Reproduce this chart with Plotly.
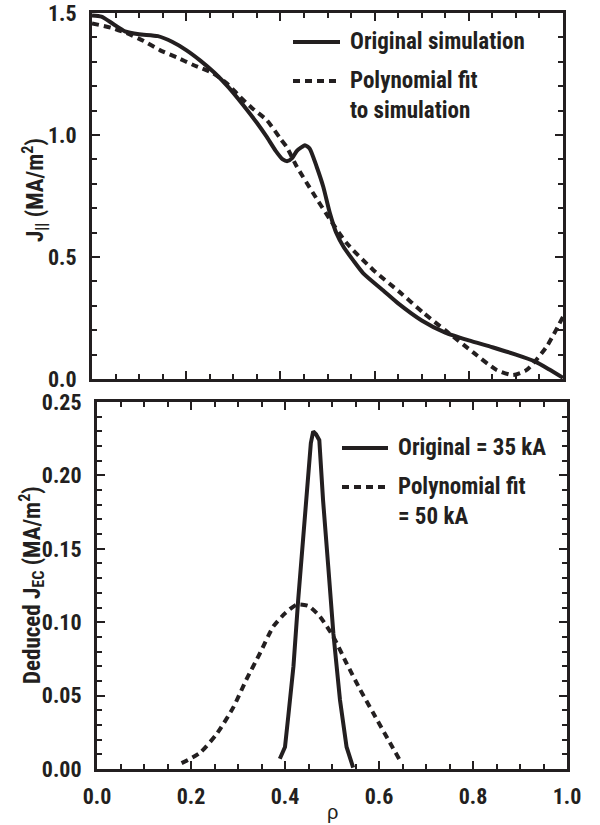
import plotly.graph_objects as go

# ---- J_parallel profile (top panel) ----
rho_sim = [0.00, 0.02, 0.045, 0.07, 0.10, 0.14, 0.17, 0.20, 0.23, 0.26, 0.29, 0.32,
           0.35, 0.37, 0.39, 0.405, 0.415, 0.425, 0.435, 0.445, 0.452, 0.462, 0.477,
           0.491, 0.505, 0.519, 0.534, 0.555, 0.576, 0.62, 0.65, 0.70, 0.75, 0.80,
           0.85, 0.90, 0.94, 0.97, 1.00]
j_sim = [1.490, 1.485, 1.455, 1.425, 1.413, 1.405, 1.382, 1.348, 1.305, 1.255, 1.195, 1.125,
         1.050, 0.995, 0.935, 0.900, 0.893, 0.905, 0.935, 0.950, 0.958, 0.945, 0.870,
         0.788, 0.680, 0.597, 0.542, 0.485, 0.433, 0.360, 0.310, 0.240, 0.190, 0.158,
         0.130, 0.100, 0.072, 0.040, 0.005]

rho_fit = [0.00, 0.04, 0.074, 0.11, 0.144, 0.18, 0.215, 0.258, 0.29, 0.314, 0.34, 0.371,
           0.40, 0.413, 0.435, 0.47, 0.506, 0.541, 0.597, 0.654, 0.703, 0.753, 0.81,
           0.859, 0.894, 0.923, 0.965, 1.00]
j_fit = [1.457, 1.440, 1.417, 1.385, 1.348, 1.318, 1.287, 1.252, 1.205, 1.157, 1.110, 1.061,
         0.985, 0.952, 0.870, 0.760, 0.652, 0.556, 0.447, 0.355, 0.272, 0.195, 0.108,
         0.037, 0.016, 0.037, 0.132, 0.255]

# ---- Deduced J_EC (bottom panel) ----
rho_ec_orig = [0.389, 0.400, 0.407, 0.418, 0.428, 0.439, 0.450, 0.455, 0.460, 0.466,
               0.473, 0.481, 0.492, 0.503, 0.517, 0.531, 0.545]
j_ec_orig = [0.007, 0.015, 0.036, 0.070, 0.115, 0.161, 0.206, 0.222, 0.230, 0.228,
             0.224, 0.183, 0.138, 0.092, 0.047, 0.015, 0.001]

rho_ec_fit = [0.180, 0.219, 0.255, 0.290, 0.318, 0.347, 0.375, 0.400, 0.425, 0.450,
              0.474, 0.503, 0.531, 0.560, 0.588, 0.623, 0.648]
j_ec_fit = [0.004, 0.011, 0.024, 0.042, 0.061, 0.079, 0.097, 0.106, 0.112, 0.111,
            0.104, 0.090, 0.072, 0.054, 0.038, 0.018, 0.004]

top_legend = ["Original simulation", "Polynomial fit<br>to simulation"]
bottom_legend = ["Original = 35 kA", "Polynomial fit<br>= 50 kA"]

W, H = 600, 825
INK = "#231f20"
FONT = "Roboto Condensed, DejaVu Sans Condensed, Liberation Sans Narrow, Liberation Sans, sans-serif"
DASH = "7px,5px"


def px(x):
    return x / W


def py(y):
    return 1 - y / H


fig = go.Figure()
fig.add_trace(go.Scatter(x=rho_sim, y=j_sim, mode="lines", xaxis="x", yaxis="y",
                         line=dict(color=INK, width=4, shape="spline", smoothing=0.6)))
fig.add_trace(go.Scatter(x=rho_fit, y=j_fit, mode="lines", xaxis="x", yaxis="y",
                         line=dict(color=INK, width=4, dash=DASH, shape="spline", smoothing=0.6)))
fig.add_trace(go.Scatter(x=rho_ec_orig, y=j_ec_orig, mode="lines", xaxis="x2", yaxis="y2",
                         line=dict(color=INK, width=4)))
fig.add_trace(go.Scatter(x=rho_ec_fit, y=j_ec_fit, mode="lines", xaxis="x2", yaxis="y2",
                         line=dict(color=INK, width=4, dash=DASH, shape="spline", smoothing=0.6)))

tickfont = dict(family=FONT, size=22, color=INK, weight="bold")


def axis(**kw):
    base = dict(showline=True, linewidth=3, linecolor=INK, mirror="ticks",
                ticks="inside", ticklen=8, tickwidth=2, tickcolor=INK,
                showgrid=False, zeroline=False, tickfont=tickfont, fixedrange=True,
                automargin=False)
    base.update(kw)
    return base


fig.update_layout(
    width=W, height=H,
    margin=dict(l=0, r=0, t=0, b=0, autoexpand=False),
    paper_bgcolor="white", plot_bgcolor="white",
    showlegend=False,
    xaxis=axis(domain=[px(92), px(563)], anchor="y", range=[0, 1], dtick=0.2,
               showticklabels=False,
               minor=dict(dtick=0.05, ticks="inside", ticklen=5, tickwidth=2, tickcolor=INK)),
    yaxis=axis(domain=[py(379), py(13)], anchor="x", range=[0, 1.5], dtick=0.5,
               tickformat=".1f", ticklabelstandoff=8,
               minor=dict(dtick=0.1, ticks="inside", ticklen=5, tickwidth=2, tickcolor=INK)),
    xaxis2=axis(domain=[px(97), px(567)], anchor="y2", range=[0, 1], dtick=0.2,
                tickformat=".1f", ticklabelstandoff=6,
                minor=dict(dtick=0.05, ticks="inside", ticklen=5, tickwidth=2, tickcolor=INK)),
    yaxis2=axis(domain=[py(769), py(402)], anchor="x2", range=[0, 0.25], dtick=0.05,
                tickformat=".2f", ticklabelstandoff=8,
                minor=dict(dtick=0.01, ticks="inside", ticklen=5, tickwidth=2, tickcolor=INK)),
)

# axis titles
title_font = dict(family=FONT, size=23, color=INK, weight="bold")
fig.add_annotation(text="J<sub>||</sub> (MA/m<sup>2</sup>)", textangle=-90,
                   x=px(34), y=py(190), xref="paper", yref="paper",
                   xanchor="center", yanchor="middle", showarrow=False, font=title_font)
fig.add_annotation(text="Deduced J<sub>EC</sub> (MA/m<sup>2</sup>)", textangle=-90,
                   x=px(31), y=py(585), xref="paper", yref="paper",
                   xanchor="center", yanchor="middle", showarrow=False, font=title_font)
fig.add_annotation(text="ρ", x=px(332), y=py(812), xref="paper", yref="paper",
                   xanchor="center", yanchor="middle", showarrow=False,
                   font=dict(family="Liberation Sans, Arial, sans-serif", size=20, color=INK))

# legend keys
legend_font = dict(family=FONT, size=23, color=INK, weight="bold")


def legend_entry(x0, x1, y_line, text, dash, y_text):
    fig.add_shape(type="line", xref="paper", yref="paper",
                  x0=px(x0), x1=px(x1), y0=py(y_line), y1=py(y_line),
                  line=dict(color=INK, width=4, dash=dash))
    fig.add_annotation(text=text, x=px(x1 + 8), y=py(y_text), xref="paper", yref="paper",
                       xanchor="left", yanchor="top", align="left", showarrow=False,
                       font=legend_font)


legend_entry(293, 340, 42, top_legend[0], "solid", 26)
legend_entry(293, 340, 81, top_legend[1], DASH, 65)
legend_entry(342, 388, 448, bottom_legend[0], "solid", 432)
legend_entry(342, 388, 487, bottom_legend[1], DASH, 471)

fig.write_html("out.html")
